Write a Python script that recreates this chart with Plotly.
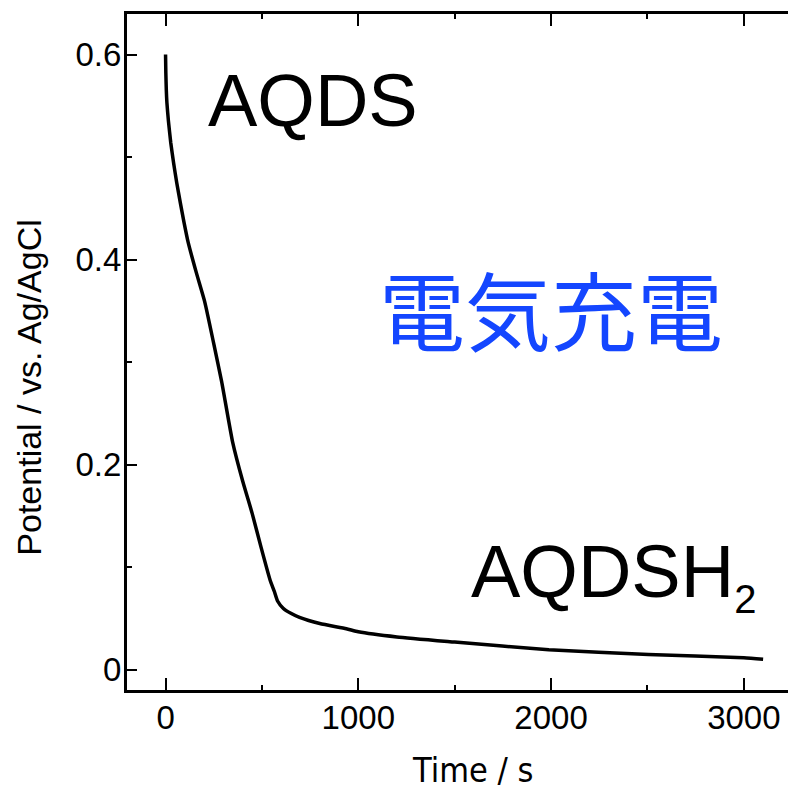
import plotly.graph_objects as go

# Data
time_s = [0, 1.5, 4, 7, 15, 27, 42, 58, 76, 96, 117, 160, 203, 250, 291, 348, 400, 450,
          496, 543, 565, 581, 610, 650, 695, 800, 938, 1000, 1200, 1500, 1988, 2505, 3000, 3100]
potential = [0.600, 0.582, 0.565, 0.553, 0.535, 0.514, 0.494, 0.475, 0.456, 0.436, 0.417,
             0.387, 0.359, 0.318, 0.281, 0.222, 0.184, 0.152, 0.119, 0.087, 0.076, 0.067,
             0.060, 0.055, 0.051, 0.045, 0.040, 0.037, 0.032, 0.027, 0.0194, 0.0149,
             0.0117, 0.0103]

x_ticks = [0, 1000, 2000, 3000]
x_tick_labels = ["0", "1000", "2000", "3000"]
y_ticks = [0, 0.2, 0.4, 0.6]
y_tick_labels = ["0", "0.2", "0.4", "0.6"]

label_ox = "AQDS"
label_red = "AQDSH<sub><span style='font-size:40px'>2</span></sub>"
label_jp = "電気充電"
x_title = "Time / s"
y_title = "Potential / vs. Ag/AgCl"

FONT = "Arial, 'Liberation Sans', sans-serif"

fig = go.Figure()
fig.add_trace(go.Scatter(x=time_s, y=potential, mode="lines",
                         line=dict(color="black", width=3.5, shape="spline", smoothing=0.5),
                         showlegend=False, hoverinfo="skip"))

fig.update_layout(
    width=796, height=785,
    margin=dict(l=119, r=4, t=3, b=103),
    paper_bgcolor="white", plot_bgcolor="white",
    font=dict(family=FONT, color="black", size=33),
    xaxis=dict(range=[-200, 3281], tickvals=x_ticks, ticktext=x_tick_labels,
               ticks="inside", ticklen=12, tickwidth=2, tickcolor="black",
               showline=True, linewidth=3, linecolor="black", mirror="ticks",
               showgrid=False, zeroline=False, ticklabelstandoff=-4,
               minor=dict(tickvals=[500, 1500, 2500], ticks="inside", ticklen=5,
                          tickwidth=2, tickcolor="black"),
               tickfont=dict(size=33, family=FONT)),
    yaxis=dict(range=[-0.0198, 0.6395], tickvals=y_ticks, ticktext=y_tick_labels,
               ticks="inside", ticklen=10, tickwidth=2, tickcolor="black",
               showline=True, linewidth=3, linecolor="black", mirror="ticks",
               showgrid=False, zeroline=False, ticklabelstandoff=-4,
               minor=dict(tickvals=[0.1, 0.3, 0.5], ticks="inside", ticklen=5,
                          tickwidth=2, tickcolor="black"),
               tickfont=dict(size=33, family=FONT)),
)

fig.add_annotation(x=767, y=0.555, xref="x", yref="y", text=label_ox, showarrow=False,
                   font=dict(size=74, family=FONT, color="black"),
                   xanchor="center", yanchor="middle")
fig.add_annotation(x=2324, y=0.0915, xref="x", yref="y", text=label_red, showarrow=False,
                   font=dict(size=74, family=FONT, color="black"),
                   xanchor="center", yanchor="middle")
fig.add_annotation(x=1999, y=0.353, xref="x", yref="y", text=label_jp, showarrow=False,
                   font=dict(size=86, family="'Noto Sans CJK JP'", color="#1446ff"),
                   xanchor="center", yanchor="middle")

fig.add_annotation(x=-0.1463, y=0.4470, xref="paper", yref="paper",
                   text=y_title, showarrow=False, textangle=-90,
                   font=dict(size=34, family=FONT, color="black"),
                   xanchor="center", yanchor="middle")
fig.add_annotation(x=0.5156, y=-0.118, xref="paper", yref="paper",
                   text=x_title, showarrow=False,
                   font=dict(size=34, family="'Liberation Sans Narrow', 'DejaVu Sans Condensed', sans-serif",
                             color="black"),
                   xanchor="center", yanchor="middle")

fig.write_html("out.html")
